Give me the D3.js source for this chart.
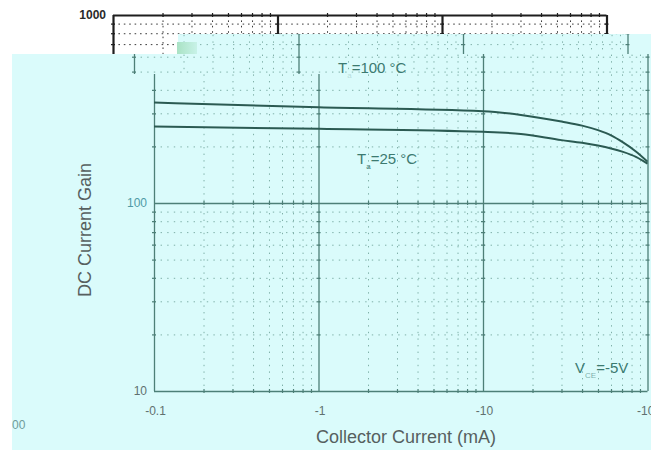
<!DOCTYPE html>
<html>
<head>
<meta charset="utf-8">
<script src="https://cdn.jsdelivr.net/npm/d3@7"></script>
<style>
  body { margin: 0; background: #fff; }
  svg { display: block; font-family: "Liberation Sans", Arial, sans-serif; }
</style>
</head>
<body>
<svg id="chart" width="651" height="450"></svg>
<script>
// data (collector current in mA, shown negative)
const currents100 = [0.1, 1, 10, 17, 30, 40, 50, 60, 71, 85, 100];
const gain100 = [342, 323, 308, 294, 271, 258, 244, 229, 210, 188, 166];
const currents25 = [0.1, 1, 10, 17, 30, 40, 50, 60, 71, 85, 100];
const gain25 = [255, 248, 239, 233, 216, 209, 202, 195, 187, 176, 162];
const xTicks = [0.1, 1, 10, 100];
const xTickLabels = ["-0.1", "-1", "-10", "-100"];
const yTicks = [10, 100, 1000];
const yTickLabels = ["10", "100", "1000"];

const W = 651, H = 450;
const svg = d3.select("#chart");

const x = d3.scaleLog().domain([0.1, 100]).range([154, 647.5]);
const y = d3.scaleLog().domain([10, 1000]).range([391, 15]);

const isDecade = v => Math.abs(Math.log10(v) - Math.round(Math.log10(v))) < 1e-6;
const minorX = x.ticks().filter(v => !isDecade(v));
const minorY = y.ticks().filter(v => !isDecade(v));

const series = [
  { cur: currents100, gain: gain100 },
  { cur: currents25, gain: gain25 }
];

const line = d3.line()
  .x(d => x(d[0]))
  .y(d => y(d[1]))
  .curve(d3.curveMonotoneX);

// the cyan plot and the black one behind it
const cyan = {
  bg: "#dafbfb", major: "#4d7f77", majorW: 1.3, minor: "#7fb0a8", dash: "1.4 5.2",
  tick: "#4d7f77", curve: "#2b5a52", text: "#60706f", weight: "normal"
};
const paper = {
  bg: "#ffffff", major: "#1e1e1e", majorW: 2.2, minor: "#3a3a3a", dash: "1.6 3.8",
  tick: "#1e1e1e", curve: "#1e1e1e", text: "#2a2a2a", weight: "bold"
};

// texts: "all", "top" (only the 1000 label) or "none"
function drawChart(parent, dx, st, clipId, texts) {
  const g = parent.append("g").attr("clip-path", "url(#" + clipId + ")")
    .append("g").attr("transform", "translate(" + dx + ",0)");

  g.append("rect").attr("x", -dx).attr("y", 0)
    .attr("width", W).attr("height", H).attr("fill", st.bg);

  // dotted minor grid
  g.append("g")
    .attr("transform", "translate(0," + y(1000) + ")")
    .call(d3.axisBottom(x).tickValues(minorX).tickSize(y(10) - y(1000)).tickFormat(""))
    .call(a => a.select(".domain").remove())
    .selectAll("line")
    .attr("stroke", st.minor).attr("stroke-dasharray", st.dash);

  g.append("g")
    .attr("transform", "translate(" + x(0.1) + ",0)")
    .call(d3.axisRight(y).tickValues(minorY).tickSize(x(100) - x(0.1)).tickFormat(""))
    .call(a => a.select(".domain").remove())
    .selectAll("line")
    .attr("stroke", st.minor).attr("stroke-dasharray", st.dash);

  // solid decade lines
  g.append("g")
    .attr("transform", "translate(0," + y(1000) + ")")
    .call(d3.axisBottom(x).tickValues(xTicks).tickSize(y(10) - y(1000)).tickFormat(""))
    .call(a => a.select(".domain").remove())
    .selectAll("line")
    .attr("stroke", st.major).attr("stroke-width", st.majorW);

  g.append("g")
    .attr("transform", "translate(" + x(0.1) + ",0)")
    .call(d3.axisRight(y).tickValues(yTicks).tickSize(x(100) - x(0.1)).tickFormat(""))
    .call(a => a.select(".domain").remove())
    .selectAll("line")
    .attr("stroke", st.major).attr("stroke-width", st.majorW);

  // small ticks along the decade lines
  yTicks.forEach(v => {
    g.append("g")
      .attr("transform", "translate(0," + (y(v) - 2) + ")")
      .call(d3.axisBottom(x).tickValues(minorX).tickSize(4).tickFormat(""))
      .call(a => a.select(".domain").remove())
      .selectAll("line").attr("stroke", st.tick).attr("stroke-width", 1.2);
  });
  xTicks.forEach(v => {
    g.append("g")
      .attr("transform", "translate(" + (x(v) - 2) + ",0)")
      .call(d3.axisRight(y).tickValues(minorY).tickSize(4).tickFormat(""))
      .call(a => a.select(".domain").remove())
      .selectAll("line").attr("stroke", st.tick).attr("stroke-width", 1.2);
  });

  // curves
  g.selectAll("path.curve")
    .data(series)
    .enter()
    .append("path")
    .attr("class", "curve")
    .attr("d", s => line(s.cur.map((c, i) => [c, s.gain[i]])))
    .attr("fill", "none")
    .attr("stroke", st.curve)
    .attr("stroke-width", 2);

  if (texts === "none") return;

  // tick labels
  const yShown = texts === "all" ? yTicks : [1000];
  g.selectAll("text.yt")
    .data(yShown)
    .enter()
    .append("text")
    .attr("class", "yt")
    .attr("x", x(0.1) - 7)
    .attr("y", d => y(d) + 4)
    .attr("text-anchor", "end")
    .attr("font-size", 12)
    .attr("font-weight", st.weight)
    .attr("fill", d => (texts === "all" && d === 100) ? "#4f9aa6" : st.text)
    .text(d => yTickLabels[yTicks.indexOf(d)]);

  if (texts !== "all") return;

  g.selectAll("text.xt")
    .data(xTicks)
    .enter()
    .append("text")
    .attr("class", "xt")
    .attr("x", d => x(d) + 1.5)
    .attr("y", 415)
    .attr("text-anchor", "middle")
    .attr("font-size", 12)
    .attr("fill", st.text)
    .text((d, i) => xTickLabels[i]);

  // axis titles
  g.append("text")
    .attr("transform", "translate(91,230) rotate(-90)")
    .attr("text-anchor", "middle")
    .attr("font-size", 18)
    .attr("fill", "#56605f")
    .text("DC Current Gain");

  g.append("text")
    .attr("x", 406)
    .attr("y", 443)
    .attr("text-anchor", "middle")
    .attr("font-size", 18)
    .attr("fill", "#56605f")
    .text("Collector Current (mA)");
}

// clip regions of the broken-up picture
const defs = svg.append("defs");
function clip(id, rects) {
  const cp = defs.append("clipPath").attr("id", id);
  rects.forEach(r => cp.append("rect")
    .attr("x", r[0]).attr("y", r[1]).attr("width", r[2]).attr("height", r[3]));
}
clip("cPaper", [[0, 0, W, 54]]);
clip("cA", [[178, 34, W - 178, 20]]);
clip("cB", [[12, 54, 418, 20]]);
clip("cMain", [[12, 74, W - 12, H - 74], [430, 54, W - 430, 20]]);

svg.append("rect").attr("width", W).attr("height", H).attr("fill", "#fff");
drawChart(svg, -41, paper, "cPaper", "top");
drawChart(svg, -20, cyan, "cA", "none");
drawChart(svg, -20, cyan, "cB", "none");
drawChart(svg, 0, cyan, "cMain", "all");

// odd green block
const grad = defs.append("linearGradient").attr("id", "gBlock");
grad.append("stop").attr("offset", "0%").attr("stop-color", "#a9e2c4");
grad.append("stop").attr("offset", "100%").attr("stop-color", "#c8f2e8");
svg.append("rect")
  .attr("x", 177).attr("y", 42).attr("width", 20).attr("height", 12)
  .attr("fill", "url(#gBlock)");

// stray fragment at the bottom left
svg.append("text")
  .attr("x", 12).attr("y", 429)
  .attr("font-size", 12)
  .attr("fill", "#6f9c9a")
  .text("00");

// annotations
const labelColor = "#3c7a70";
function label(px, py, main, sub, rest, subOpacity) {
  const t = svg.append("text")
    .attr("x", px).attr("y", py)
    .attr("font-size", 15)
    .attr("fill", labelColor);
  t.append("tspan").text(main);
  t.append("tspan").attr("dy", 5).attr("font-size", 8)
    .attr("fill-opacity", subOpacity).text(sub);
  t.append("tspan").attr("dy", -5).text(rest);
}
label(338, 73, "T", "a", "=100 °C", 0.25);
label(357, 164, "T", "a", "=25 °C", 1);
label(575, 373, "V", "CE", "=-5V", 0.6);
</script>
</body>
</html>
